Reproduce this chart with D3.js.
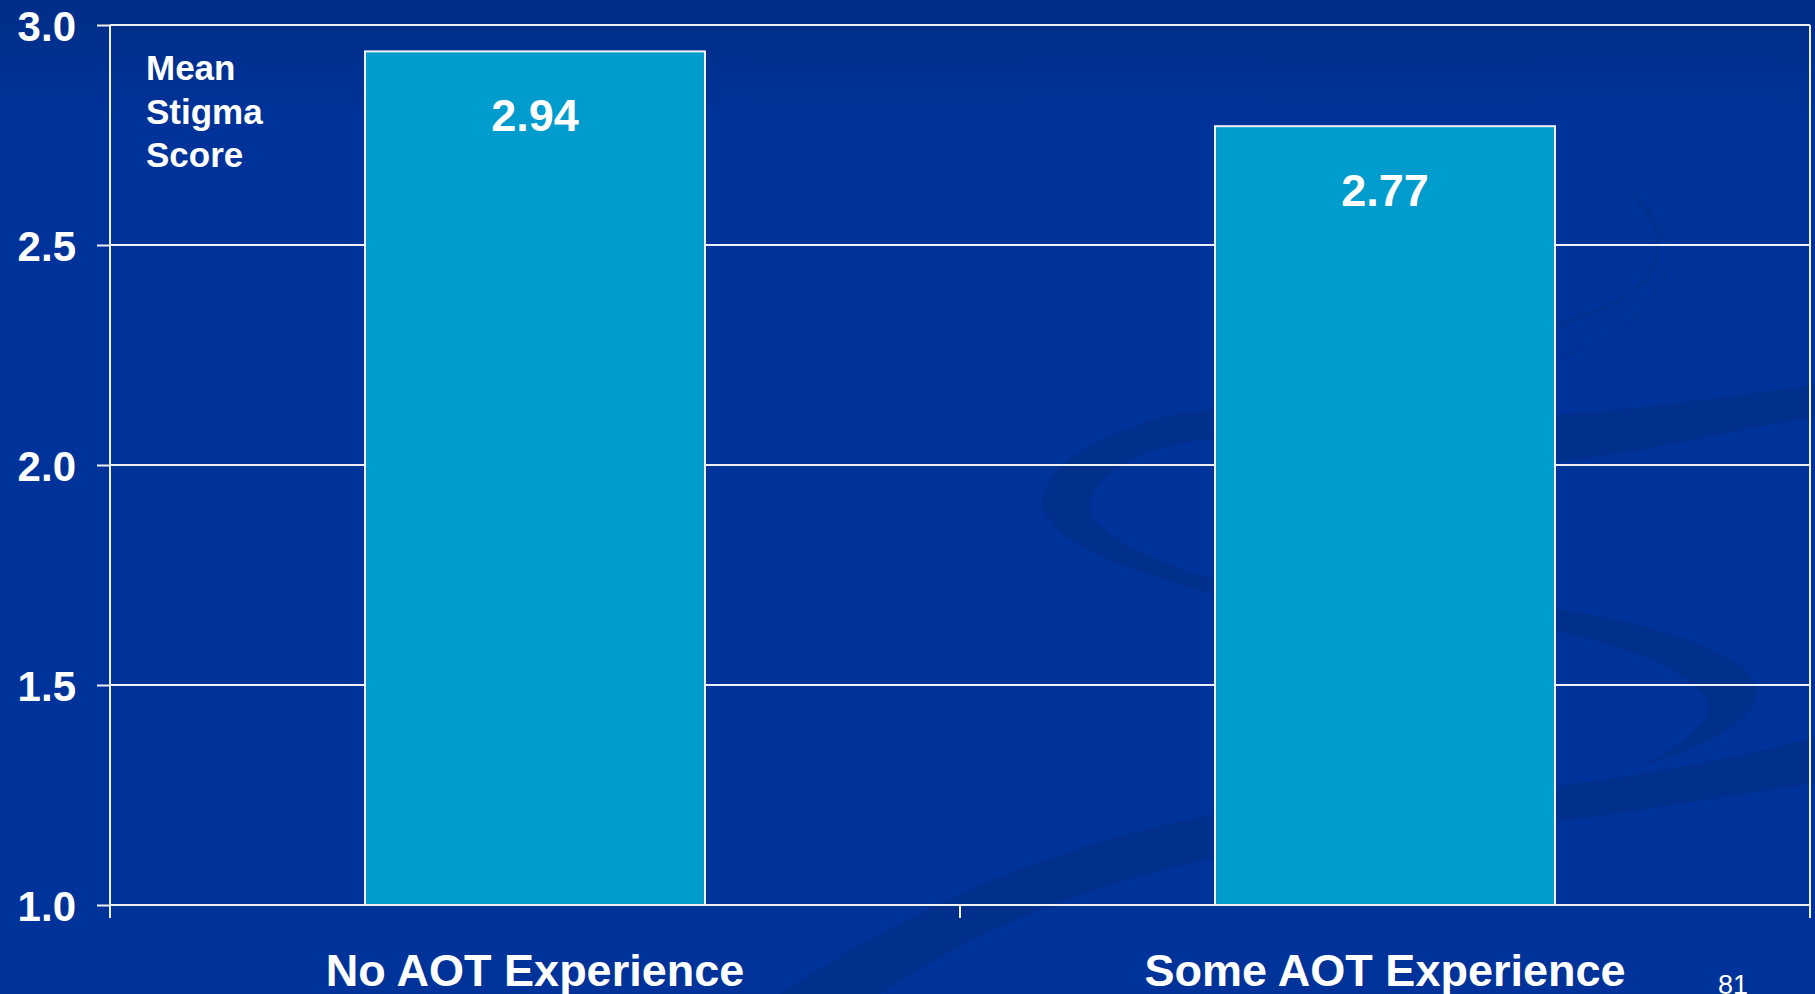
<!DOCTYPE html>
<html>
<head>
<meta charset="utf-8">
<script src="https://cdn.jsdelivr.net/npm/d3@7"></script>
<style>
  html, body { margin: 0; padding: 0; background: #003399; overflow: hidden; }
  svg { display: block; }
</style>
</head>
<body>
<svg id="chart" width="1815" height="994"></svg>
<script>
// Mean stigma score by AOT experience
const categories = ["No AOT Experience", "Some AOT Experience"];
const meanScores = [2.94, 2.77];
const yTicks = [1.0, 1.5, 2.0, 2.5, 3.0];
const axisTitle = ["Mean", "Stigma", "Score"];
const slideNumber = "81";

const W = 1815, H = 994;
const plot = { left: 110, right: 1810, top: 25, bottom: 905 };
const FONT = "'Liberation Sans', Arial, Helvetica, sans-serif";
const LINE = "#eef0f6";

const svg = d3.select("#chart");

// slide background
const defs = svg.append("defs");
const bg = defs.append("linearGradient").attr("id", "bg")
  .attr("x1", 0).attr("y1", 0).attr("x2", 0).attr("y2", 1);
bg.append("stop").attr("offset", "0").attr("stop-color", "#002d87");
bg.append("stop").attr("offset", "0.12").attr("stop-color", "#003399");
bg.append("stop").attr("offset", "1").attr("stop-color", "#003399");
svg.append("rect").attr("width", W).attr("height", H).attr("fill", "url(#bg)");

// decorative swoosh of the slide template
const swoosh = svg.append("g").attr("fill", "#002f8c");
swoosh.append("path").attr("d",
  "M1815,385 C1700,400 1560,422 1400,420 C1300,418 1230,400 1160,418 " +
  "C1080,440 1040,475 1042,505 C1045,540 1130,572 1215,594 C1300,612 1450,605 1555,612 " +
  "L1555,632 C1440,625 1300,630 1215,580 C1140,556 1088,530 1090,505 " +
  "C1092,472 1150,440 1230,438 C1330,436 1450,460 1560,462 C1660,450 1740,428 1815,417 Z");
swoosh.append("path").attr("d",
  "M1555,609 C1650,622 1760,655 1757,693 C1754,722 1710,746 1640,766 " +
  "C1695,738 1714,716 1706,700 C1690,668 1620,645 1555,631 Z");
swoosh.append("path").attr("d",
  "M1815,738 C1680,770 1560,792 1400,798 C1200,800 1000,850 780,994 " +
  "L880,994 C1050,880 1250,840 1420,835 C1600,820 1700,800 1815,783 Z");
swoosh.append("path").attr("fill", "none").attr("stroke", "#00318f")
  .attr("stroke-width", 3)
  .attr("d", "M1630,192 C1665,225 1672,270 1620,300 C1590,315 1570,322 1540,330");
swoosh.append("path").attr("fill", "none").attr("stroke", "#00318f")
  .attr("stroke-width", 2)
  .attr("d", "M1640,200 C1690,250 1680,320 1540,364");

// scales
const y = d3.scaleLinear().domain([1, 3]).range([plot.bottom, plot.top]);
const x = d3.scaleBand().domain(categories).range([plot.left, plot.right])
  .paddingInner(0.6).paddingOuter(0.3);

// horizontal gridlines
svg.append("g").selectAll("line").data(yTicks).join("line")
  .attr("x1", plot.left).attr("x2", plot.right)
  .attr("y1", d => y(d)).attr("y2", d => y(d))
  .attr("stroke", LINE).attr("stroke-width", 2);

// y axis
const yAxis = svg.append("g").attr("transform", `translate(${plot.left},0)`)
  .call(d3.axisLeft(y).tickValues(yTicks).tickSize(13).tickPadding(21)
    .tickFormat(d3.format(".1f")));
yAxis.select(".domain").remove();
yAxis.selectAll(".tick line").attr("stroke", LINE).attr("stroke-width", 2);
yAxis.selectAll(".tick text")
  .attr("fill", "#ffffff").attr("font-family", FONT).attr("font-weight", "bold")
  .attr("font-size", 42).attr("dy", "0.37em");

// plot frame verticals and category boundary ticks
const bounds = d3.range(categories.length + 1).map(i => plot.left + i * x.step());
svg.append("g").selectAll("line").data(bounds).join("line")
  .attr("x1", d => d).attr("x2", d => d)
  .attr("y1", (d, i) => (i === 0 || i === categories.length) ? plot.top : plot.bottom)
  .attr("y2", plot.bottom + 13)
  .attr("stroke", LINE).attr("stroke-width", 2);

// bars
svg.append("g").selectAll("rect").data(meanScores).join("rect")
  .attr("x", (d, i) => x(categories[i]))
  .attr("y", d => y(d))
  .attr("width", x.bandwidth())
  .attr("height", d => y(1) - y(d))
  .attr("fill", "#009ccd")
  .attr("stroke", LINE).attr("stroke-width", 2);

// value labels
svg.append("g").selectAll("text").data(meanScores).join("text")
  .attr("x", (d, i) => x(categories[i]) + x.bandwidth() / 2)
  .attr("y", d => y(d) + 80)
  .attr("text-anchor", "middle")
  .attr("fill", "#ffffff").attr("font-family", FONT).attr("font-weight", "bold")
  .attr("font-size", 45)
  .text(d => d.toFixed(2));

// category labels
const xAxis = svg.append("g").attr("transform", `translate(0,${plot.bottom})`)
  .call(d3.axisBottom(x).tickSize(0).tickPadding(0));
xAxis.select(".domain").remove();
xAxis.selectAll(".tick text")
  .attr("y", 81).attr("dy", 0)
  .attr("fill", "#ffffff").attr("font-family", FONT).attr("font-weight", "bold")
  .attr("font-size", 45);

// axis title inside the plot
svg.append("text")
  .attr("x", 146).attr("y", 80)
  .attr("fill", "#ffffff").attr("font-family", FONT).attr("font-weight", "bold")
  .attr("font-size", 35)
  .selectAll("tspan").data(axisTitle).join("tspan")
  .attr("x", 146).attr("dy", (d, i) => i === 0 ? 0 : 43.5)
  .text(d => d);

// slide number
svg.append("text")
  .attr("x", 1718).attr("y", 994)
  .attr("fill", "#ffffff").attr("font-family", FONT)
  .attr("font-size", 27)
  .text(slideNumber);
</script>
</body>
</html>
